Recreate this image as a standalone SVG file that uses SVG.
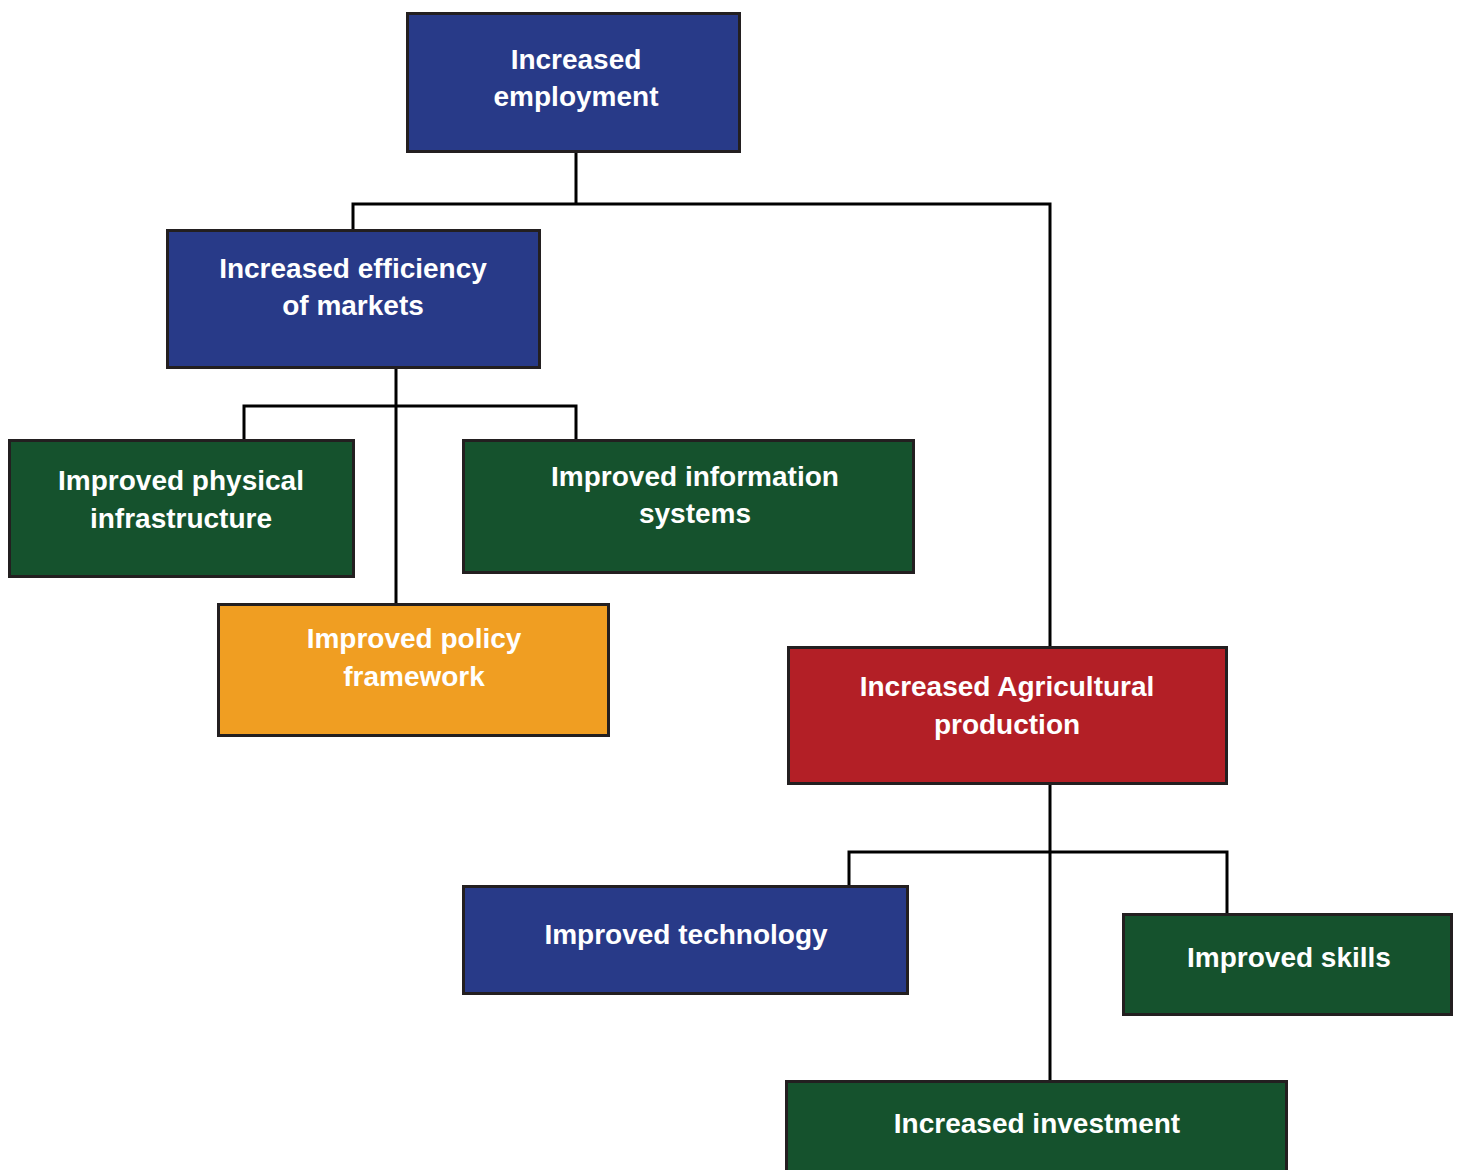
<svg xmlns="http://www.w3.org/2000/svg" width="1457" height="1170" viewBox="0 0 1457 1170">
<style>
.box{stroke:#231f20;stroke-width:3}
.blue{fill:#283a88}.green{fill:#15522d}.orange{fill:#f09e22}.red{fill:#b31f26}
.t{font-family:"Liberation Sans",Arial,sans-serif;font-weight:bold;font-size:28px;fill:#fff;text-anchor:middle}
.c{fill:none;stroke:#000;stroke-width:3}
</style>
<rect width="1457" height="1170" fill="#fff"/>
<g id="connectors">
<path class="c" d="M576 153V204M353 229V204H1050V646"/>
<path class="c" d="M396 369V603M244 439V406H576V439"/>
<path class="c" d="M1050 785V1080M849 885V852H1227V913"/>
</g>
<g id="n1"><rect class="box blue" x="407.5" y="13.5" width="332" height="138"/><text class="t" x="576" y="69">Increased</text><text class="t" x="576" y="106">employment</text></g>
<g id="n2"><rect class="box blue" x="167.5" y="230.5" width="372" height="137"/><text class="t" x="353" y="278">Increased efficiency</text><text class="t" x="353" y="315">of markets</text></g>
<g id="n3"><rect class="box green" x="9.5" y="440.5" width="344" height="136"/><text class="t" x="181" y="490">Improved physical</text><text class="t" x="181" y="528">infrastructure</text></g>
<g id="n4"><rect class="box green" x="463.5" y="440.5" width="450" height="132"/><text class="t" x="695" y="486">Improved information</text><text class="t" x="695" y="523">systems</text></g>
<g id="n5"><rect class="box orange" x="218.5" y="604.5" width="390" height="131"/><text class="t" x="414" y="648">Improved policy</text><text class="t" x="414" y="686">framework</text></g>
<g id="n6"><rect class="box red" x="788.5" y="647.5" width="438" height="136"/><text class="t" x="1007" y="696">Increased Agricultural</text><text class="t" x="1007" y="734">production</text></g>
<g id="n7"><rect class="box blue" x="463.5" y="886.5" width="444" height="107"/><text class="t" x="686" y="944">Improved technology</text></g>
<g id="n8"><rect class="box green" x="1123.5" y="914.5" width="328" height="100"/><text class="t" x="1289" y="967">Improved skills</text></g>
<g id="n9"><rect class="box green" x="786.5" y="1081.5" width="500" height="100"/><text class="t" x="1037" y="1133">Increased investment</text></g>
</svg>
